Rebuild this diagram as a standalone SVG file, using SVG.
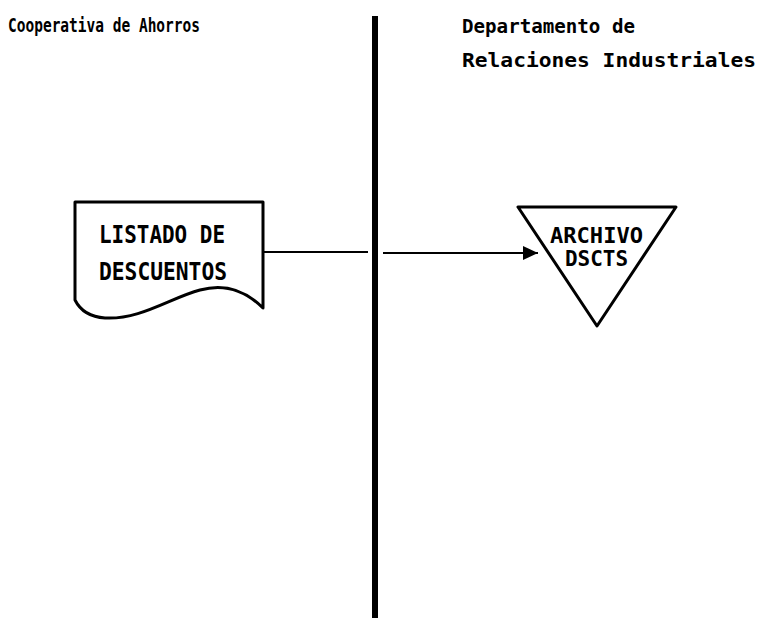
<svg xmlns="http://www.w3.org/2000/svg" width="762" height="618" viewBox="0 0 762 618">
<style>
.hdr{font-family:"DejaVu Sans Mono","Liberation Mono",monospace;font-weight:bold;font-size:19px;fill:#000}
.lbl{font-family:"DejaVu Sans Mono","Liberation Mono",monospace;font-weight:bold;font-size:24px;fill:#000}
.lbl2{font-family:"DejaVu Sans Mono","Liberation Mono",monospace;font-weight:bold;font-size:22px;fill:#000}
.shape{fill:#fff;stroke:#000;stroke-width:3;stroke-linejoin:round}
.conn{fill:none;stroke:#000;stroke-width:2}
</style>
<defs>
<marker id="arrow" markerUnits="userSpaceOnUse" markerWidth="16" markerHeight="16" refX="15" refY="7" orient="auto">
<path d="M0,0 L15,7 L0,14 Z" fill="#000"/>
</marker>
</defs>
<rect width="762" height="618" fill="#fff"/>
<g id="lanes">
<rect x="372" y="16" width="6" height="602" fill="#000"/>
<text class="hdr" x="8" y="32" textLength="192" lengthAdjust="spacingAndGlyphs">Cooperativa de Ahorros</text>
<text class="hdr" x="462" y="33" textLength="173" lengthAdjust="spacingAndGlyphs">Departamento de</text>
<text class="hdr" x="462" y="67" textLength="294" lengthAdjust="spacingAndGlyphs">Relaciones Industriales</text>
</g>
<g id="connectors">
<path class="conn" d="M263,252 H368 M383,253 H538" marker-end="url(#arrow)"/>
</g>
<g id="listado">
<path class="shape" d="M75,202 H263 V308 C245,290 225,283 200,290 C170,298 140,320 105,318 C90,317 80,310 75,300 Z"/>
<text class="lbl" x="99" y="243" textLength="126" lengthAdjust="spacingAndGlyphs">LISTADO DE</text>
<text class="lbl" x="99" y="280" textLength="128" lengthAdjust="spacingAndGlyphs">DESCUENTOS</text>
</g>
<g id="archivo">
<polygon class="shape" points="518,207 676,207 597,326"/>
<text class="lbl2" x="550" y="243" textLength="93" lengthAdjust="spacingAndGlyphs">ARCHIVO</text>
<text class="lbl2" x="565" y="266" textLength="63" lengthAdjust="spacingAndGlyphs">DSCTS</text>
</g>
</svg>
